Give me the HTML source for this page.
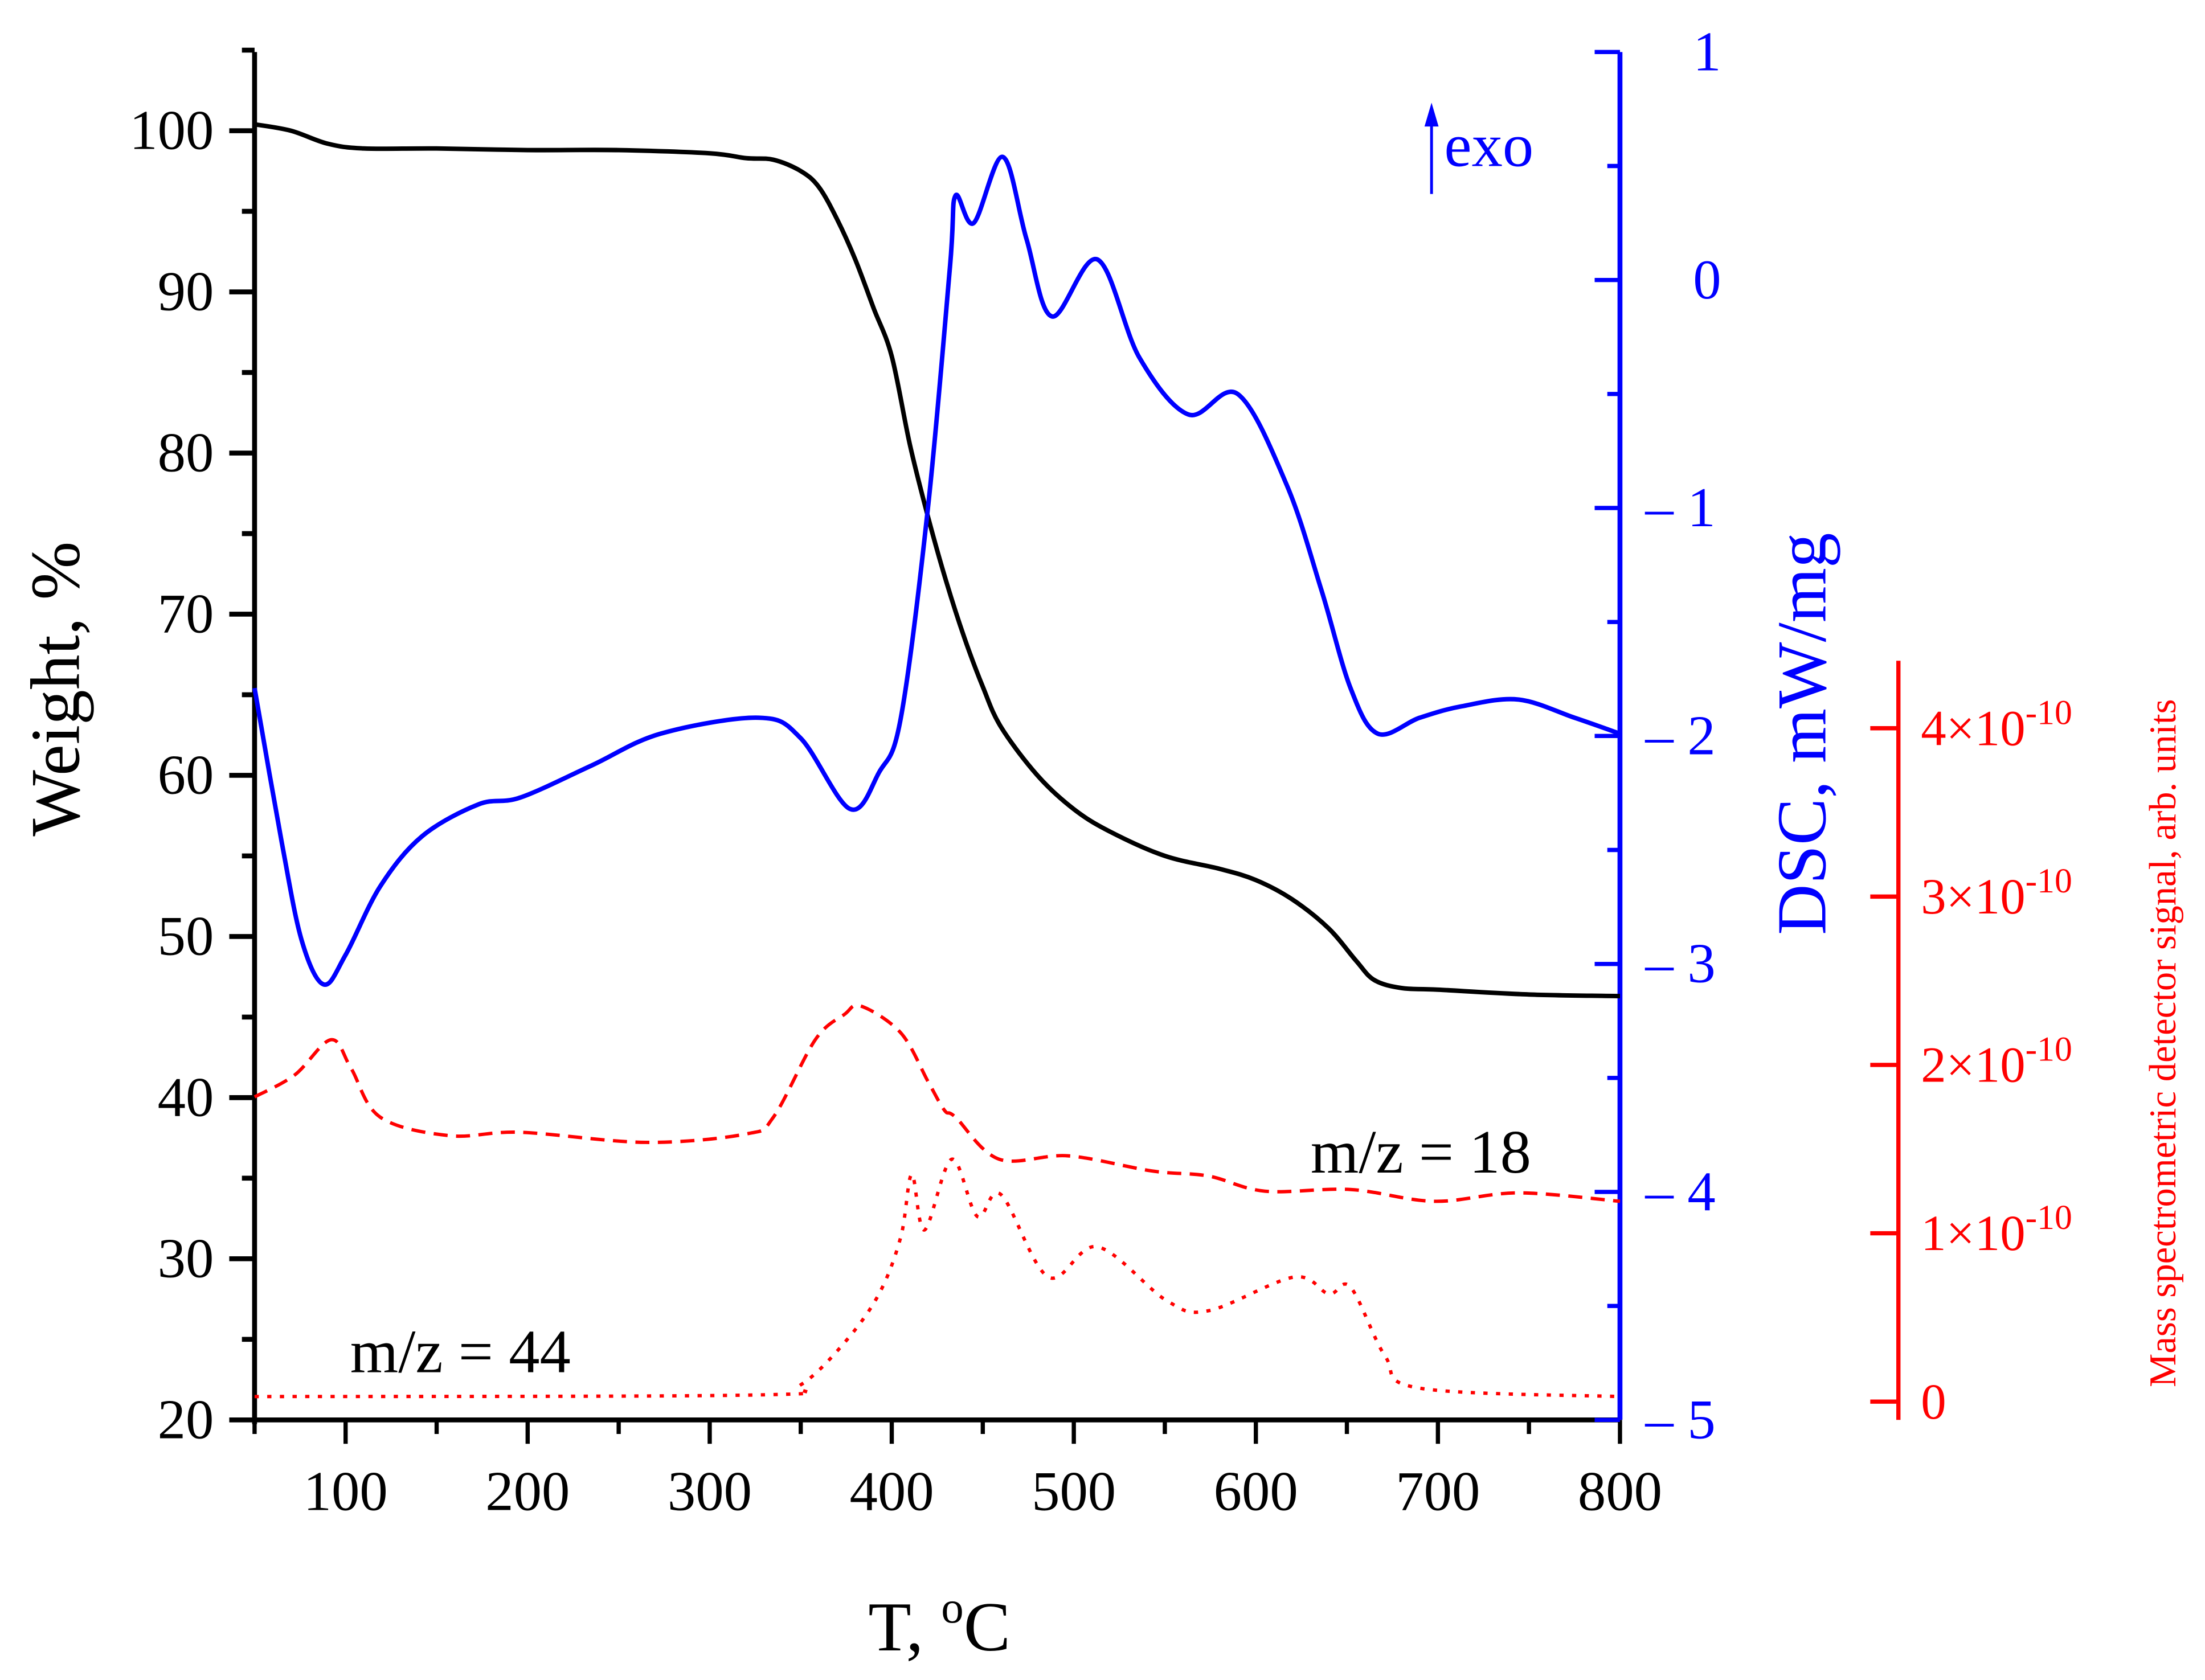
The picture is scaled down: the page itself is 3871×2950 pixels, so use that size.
<!DOCTYPE html>
<html><head><meta charset="utf-8"><style>
html,body{margin:0;padding:0;background:#fff}
svg{display:block}
text{font-family:"Liberation Serif",serif}
</style></head><body>
<svg id="chart" width="3871" height="2950" viewBox="0 0 1568 1195" xmlns="http://www.w3.org/2000/svg">
<g id="axes"></g>
<g id="series"></g>
<text x="668" y="1174" font-size="50" text-anchor="middle">T, <tspan font-size="32" dy="-20">o</tspan><tspan dy="20">C</tspan></text>
<text transform="translate(56,490) rotate(-90)" font-size="50" text-anchor="middle">Weight, %</text>
<text transform="translate(1298,522) rotate(-90)" font-size="50" fill="#0000ff" text-anchor="middle">DSC, mW/mg</text>
<text transform="translate(1547,742) rotate(-90)" font-size="27" fill="#ff0000" text-anchor="middle">Mass spectrometric detector signal, arb. units</text>
<g>
<line x1="1018" y1="138" x2="1018" y2="86" stroke="#0000ff" stroke-width="2"/>
<polygon points="1013,90 1018,73 1023,90" fill="#0000ff"/>
<text x="1027" y="118" font-size="44" fill="#0000ff">exo</text>
</g>
<text x="932" y="834" font-size="44">m/z = 18</text>
<text x="249" y="976" font-size="44">m/z = 44</text>
</svg>
<script>
const weightT=[50,70,90,110,150,200,250,300,320,335,350,360,370,380,390,400,410,420,430,440,450,460,480,500,520,550,580,600,620,640,655,665,680,700,750,800];
const weightV=[100.4,100,99.2,98.9,98.9,98.8,98.8,98.6,98.3,98.2,97.5,96.5,94.5,92,89,86,80.5,76,72,68.5,65.5,63,60,57.9,56.5,55,54.2,53.5,52.3,50.5,48.5,47.3,46.8,46.7,46.4,46.3];
const dscT=[50,65,76,88,100,119,142,173,196,235,273,327,350,377,393,405,420,432,435,445,461,474,488,513,536,563,590,617,636,652,667,690,713,744,775,800];
const dscV=[-1.79,-2.47,-2.9,-3.09,-2.96,-2.66,-2.44,-2.3,-2.27,-2.13,-1.99,-1.92,-2.01,-2.32,-2.16,-1.92,-0.99,0.06,0.37,0.25,0.54,0.18,-0.16,0.09,-0.34,-0.59,-0.5,-0.9,-1.36,-1.79,-1.99,-1.92,-1.87,-1.84,-1.92,-1.99];
const ms18T=[50,72,92,103,119,157,196,265,320,335,358,374,383,405,420,429,435,459,497,543,574,605,652,698,744,800];
const ms18V=[1.81,1.94,2.15,1.98,1.69,1.58,1.6,1.54,1.59,1.69,2.15,2.3,2.35,2.19,1.9,1.73,1.69,1.44,1.46,1.37,1.34,1.25,1.26,1.19,1.24,1.19];
const ms44T=[50,327,350,374,393,405,411,418,433,447,460,486,513,551,574,621,640,652,671,690,800];
const ms44V=[0.03,0.04,0.1,0.35,0.64,0.98,1.35,1.02,1.44,1.1,1.23,0.74,0.92,0.6,0.54,0.74,0.64,0.68,0.27,0.08,0.03];
const xTicks=[100,200,300,400,500,600,700,800];
const wTicks=[20,30,40,50,60,70,80,90,100];
const dTicks=[1,0,-1,-2,-3,-4,-5];
const mTicks=[0,1,2,3,4];

const X0=181,X1=1152,Y0=1010,YT=37;
const sx=t=>X0+(t-50)*(X1-X0)/750;
const sw=w=>Y0-(w-20)*(Y0-93)/80;
const sd=d=>YT+(1-d)*(Y0-YT)/6;
const sm=m=>997-m*119.75;
const NS='http://www.w3.org/2000/svg';
const axes=document.getElementById('axes'),series=document.getElementById('series');
function mk(tag,attrs,parent){const e=document.createElementNS(NS,tag);for(const k in attrs)e.setAttribute(k,attrs[k]);parent.appendChild(e);return e;}
function ln(x1,y1,x2,y2,c,w,parent){return mk('line',{x1,y1,x2,y2,stroke:c,'stroke-width':w},parent);}
function txt(x,y,s,size,fill,anchor,parent){const t=mk('text',{x,y,'font-size':size,fill,'text-anchor':anchor},parent);t.textContent=s;return t;}

let a=ln(X0,YT,X0,Y0+3,'#000',3.5,axes);


for(let w=20;w<=105;w+=5){const major=w%10===0;const l=ln(X0-(major?18:9),sw(w),X0,sw(w),'#000',3.5,axes);

}
wTicks.forEach(w=>{const t=txt(152,sw(w)+13,String(w),40,'#000','end',axes);

});
a=ln(X0,Y0,X1,Y0,'#000',3.5,axes);


for(let t=50;t<=800;t+=50){const major=t%100===0;const l=ln(sx(t),Y0,sx(t),Y0+(major?17:10),'#000',3,axes);

}
xTicks.forEach(t=>{const e=txt(sx(t),Y0+64,String(t),40,'#000','middle',axes);

});
a=ln(X1,YT,X1,Y0,'#0000ff',3.5,axes);


for(let d=1;d>=-5;d-=0.5){const major=Number.isInteger(d);const l=ln(X1-(major?18:9),sd(d),X1,sd(d),'#0000ff',3,axes);

}
dTicks.forEach(d=>{const s=d<0?'\u2013 '+Math.abs(d):String(d);const e=txt(d<0?1170:1204,sd(d)+13,s,40,'#0000ff','start',axes);

});
const MX=1350;
a=ln(MX,470,MX,1010,'#ff0000',3,axes);


mTicks.forEach(m=>{const l=ln(MX-20,sm(m),MX,sm(m),'#ff0000',3,axes);


const e=mk('text',{x:1366,y:sm(m)+12,'font-size':36,fill:'#ff0000'},axes);


if(m===0){e.textContent='0';}else{e.textContent=m+'\u00d710';const sp=mk('tspan',{dy:-15,'font-size':25},e);sp.textContent='-10';}
});

function path(T,V,fy){const P=T.map((t,i)=>[sx(t),fy(V[i])]);let d='M'+P[0][0]+','+P[0][1];
for(let i=0;i<P.length-1;i++){const p0=P[Math.max(0,i-1)],p1=P[i],p2=P[i+1],p3=P[Math.min(P.length-1,i+2)];
const c1=[p1[0]+(p2[0]-p0[0])/6,p1[1]+(p2[1]-p0[1])/6],c2=[p2[0]-(p3[0]-p1[0])/6,p2[1]-(p3[1]-p1[1])/6];
d+=` C${c1[0]},${c1[1]} ${c2[0]},${c2[1]} ${p2[0]},${p2[1]}`;}return d;}
let p=mk('path',{d:path(ms44T,ms44V,sm),fill:'none',stroke:'#ff0000','stroke-width':2.4,'stroke-dasharray':'3,6'},series);


p=mk('path',{d:path(ms18T,ms18V,sm),fill:'none',stroke:'#ff0000','stroke-width':2.4,'stroke-dasharray':'10,6'},series);


p=mk('path',{d:path(weightT,weightV,sw),fill:'none',stroke:'#000','stroke-width':3.2},series);


p=mk('path',{d:path(dscT,dscV,sd),fill:'none',stroke:'#0000ff','stroke-width':3.2},series);


</script>
</body></html>
